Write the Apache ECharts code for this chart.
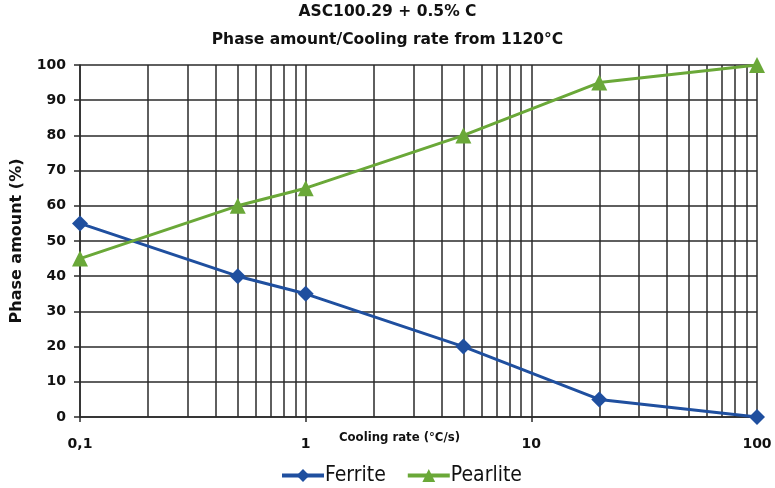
<!DOCTYPE html>
<html>
<head>
<meta charset="utf-8">
<script src="https://cdn.jsdelivr.net/npm/echarts@6/dist/echarts.min.js"></script>
<style>
  html, body { margin: 0; padding: 0; background: #fff; }
  #chart { width: 775px; height: 488px; }
</style>
</head>
<body>
<div id="chart"></div>
<script>
// Cooling rates (°C/s) and phase amounts (%)
const coolingRates = [0.1, 0.5, 1, 5, 20, 100];
const ferrite = [55, 40, 35, 20, 5, 0];
const pearlite = [45, 60, 65, 80, 95, 100];
// Intermediate decade lines of the log grid
const minorRates = [0.2, 0.3, 0.4, 0.5, 0.6, 0.7, 0.8, 0.9,
                    2, 3, 4, 5, 6, 7, 8, 9,
                    20, 30, 40, 50, 60, 70, 80, 90];

const HEAVY = '"DejaVu Sans", sans-serif';
const COND = '"DejaVu Sans Condensed", "DejaVu Sans", sans-serif';
const gridColor = '#2a2a2a';
const blue = '#1f4f9f';
const green = '#6aa838';

const chart = echarts.init(document.getElementById('chart'));
chart.setOption({
  animation: false,
  backgroundColor: '#fff',
  title: {
    text: 'ASC100.29 + 0.5% C\nPhase amount/Cooling rate from 1120°C',
    left: 'center',
    top: -2,
    padding: 0,
    textStyle: { fontFamily: HEAVY, fontWeight: 'bold', fontSize: 15.5, lineHeight: 28, color: '#111' }
  },
  legend: {
    bottom: -3,
    left: 275,
    itemWidth: 42,
    itemHeight: 16,
    itemGap: 20,
    lineStyle: { width: 4 },
    textStyle: { fontFamily: COND, fontSize: 21, color: '#111', padding: [0, 0, 0, -4] },
    data: ['Ferrite', 'Pearlite']
  },
  grid: { left: 80, right: 18, top: 65, bottom: 71, outerBoundsMode: 'none', containLabel: false },
  xAxis: {
    type: 'log',
    logBase: 10,
    min: 0.1,
    max: 100,
    name: 'Cooling rate (°C/s)',
    nameLocation: 'middle',
    nameGap: 14,
    nameMoveOverlap: false,
    nameTextStyle: { fontFamily: COND, fontWeight: 'bold', fontSize: 13, color: '#111', padding: [0, 38, 0, 0] },
    axisLine: { show: true, lineStyle: { color: gridColor, width: 1.5 } },
    axisTick: { show: true, length: 5, lineStyle: { color: gridColor, width: 1.5 } },
    axisLabel: {
      margin: 20,
      fontFamily: HEAVY, fontWeight: 'bold', fontSize: 14, color: '#111',
      formatter: v => String(v).replace('.', ',')
    },
    splitLine: { show: true, lineStyle: { color: gridColor, width: 1.5 } }
  },
  yAxis: {
    type: 'value',
    min: 0,
    max: 100,
    interval: 10,
    name: 'Phase amount (%)',
    nameLocation: 'middle',
    nameGap: 55,
    nameMoveOverlap: false,
    nameTextStyle: { fontFamily: HEAVY, fontWeight: 'bold', fontSize: 16, color: '#111' },
    axisLine: { show: true, lineStyle: { color: gridColor, width: 1.5 } },
    axisTick: { show: true, length: 6, lineStyle: { color: gridColor, width: 1.5 } },
    axisLabel: { margin: 14, fontFamily: HEAVY, fontWeight: 'bold', fontSize: 14, color: '#111' },
    splitLine: { show: true, lineStyle: { color: gridColor, width: 1.5 } }
  },
  series: [
    {
      name: 'Ferrite',
      type: 'line',
      data: coolingRates.map((x, i) => [x, ferrite[i]]),
      symbol: 'diamond',
      symbolSize: 16,
      color: blue,
      lineStyle: { width: 3, color: blue },
      itemStyle: { color: blue },
      z: 5,
      markLine: {
        silent: true,
        symbol: 'none',
        label: { show: false },
        lineStyle: { color: gridColor, width: 1.5, type: 'solid' },
        z: 1,
        data: minorRates.map(x => ({ xAxis: x }))
      }
    },
    {
      name: 'Pearlite',
      type: 'line',
      data: coolingRates.map((x, i) => [x, pearlite[i]]),
      symbol: 'triangle',
      symbolSize: 16,
      color: green,
      lineStyle: { width: 3, color: green },
      itemStyle: { color: green },
      z: 5
    }
  ]
});
</script>
</body>
</html>
